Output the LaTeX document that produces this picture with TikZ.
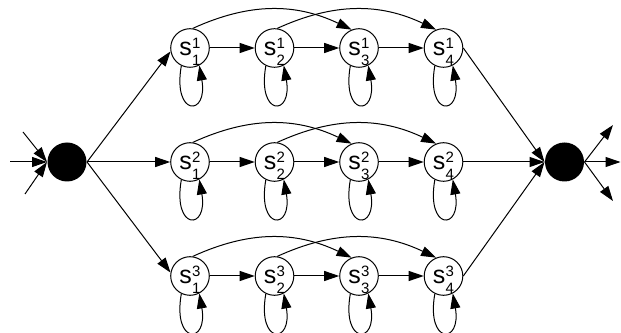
\documentclass[tikz,border=0pt]{standalone}
\usepackage{fontspec}
\setmainfont{Liberation Sans}
\usetikzlibrary{arrows.meta}
\newcommand{\stlbl}[2]{s\kern0.2pt\rlap{\raisebox{7pt}{\fontsize{15}{15}\selectfont #1}}\raisebox{-10.5pt}{\fontsize{15}{15}\selectfont #2}}
\begin{document}
\begin{tikzpicture}[x=1pt,y=1pt,line width=1pt,
  >={Triangle[length=15pt,width=10pt]},
  state/.style={circle,draw,minimum size=38.6pt,inner sep=0pt,font=\fontsize{25}{25}\selectfont,text height=15pt,text depth=0pt},
  blob/.style={circle,fill=black,minimum size=39pt,inner sep=0pt},
  trans/.style={->},
  skip/.style={->,bend left=25},
  selfloop/.style={->},
]
\useasboundingbox (0,0) rectangle (621,332);
% black circles
\node[blob] (L) at (67,170) {};
\node[blob] (R) at (564.5,170) {};
% states
\foreach \r/\y in {1/284,2/170,3/56}{
  \foreach \c/\x in {1/190,2/274.5,3/359,4/443.5}{
    \node[state] (s\r\c) at (\x,\y) {\stlbl{\r}{\c}};
  }
}
% chains, loops, skips
\foreach \r in {1,2,3}{
  \draw[trans] (s\r1) -- (s\r2);
  \draw[trans] (s\r2) -- (s\r3);
  \draw[trans] (s\r3) -- (s\r4);
  \foreach \c in {1,2,3,4}{
    \draw[selfloop] (s\r\c.-116) .. controls +(-100:52) and +(-80:52) .. (s\r\c.-62);
  }
  \draw[skip] (s\r1.82) to (s\r3.112);
  \draw[skip] (s\r2.82) to (s\r4.112);
}
% fan out / fan in
\draw[trans] (L.east) -- (s11.190);
\draw[trans] (L.east) -- (s21.west);
\draw[trans] (L.east) -- (s31.170);
\draw[trans] (s14.east) -- (R.west);
\draw[trans] (s24.east) -- (R.west);
\draw[trans] (s34.east) -- (R.west);
% inputs and outputs
\coordinate (i1) at (23,200);
\coordinate (i2) at (10,170);
\coordinate (i3) at (25,138);
\coordinate (o1) at (613,207);
\coordinate (o2) at (620.5,170);
\coordinate (o3) at (613,131);
\draw[trans] (i1) -- (L.west);
\draw[trans] (i2) -- (L.west);
\draw[trans] (i3) -- (L.west);
\draw[trans] (R.east) -- (o1);
\draw[trans] (R.east) -- (o2);
\draw[trans] (R.east) -- (o3);
\end{tikzpicture}
\end{document}
